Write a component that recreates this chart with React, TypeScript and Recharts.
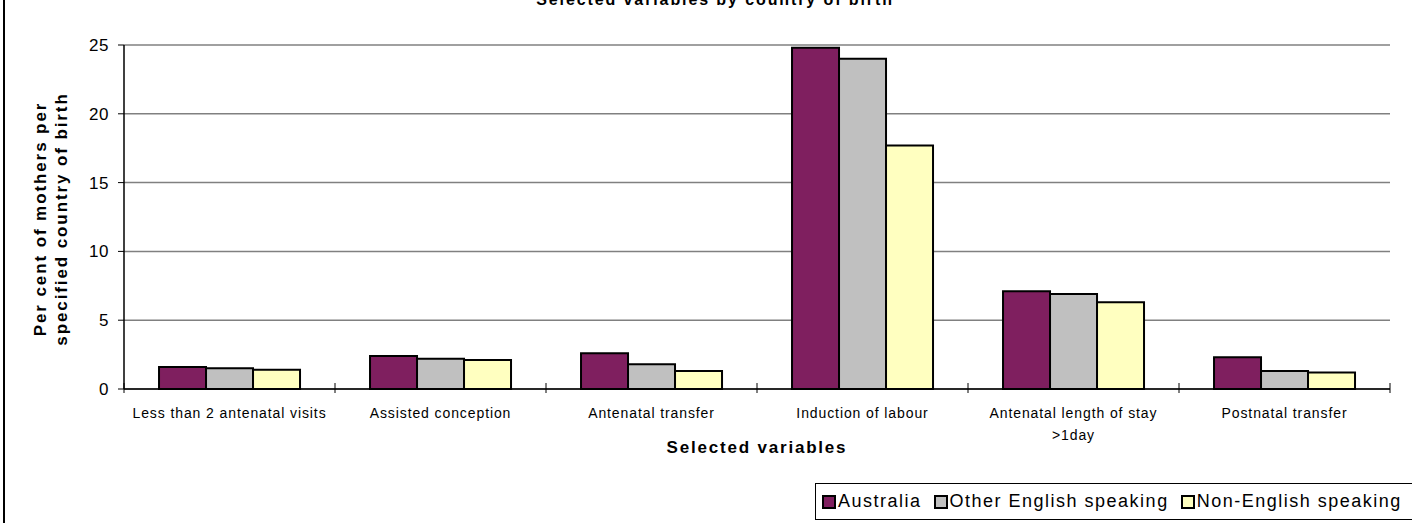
import { BarChart, Bar, XAxis, YAxis, CartesianGrid, Label } from "recharts";

const CATEGORIES = [
  "Less than 2 antenatal visits",
  "Assisted conception",
  "Antenatal transfer",
  "Induction of labour",
  "Antenatal length of stay >1day",
  "Postnatal transfer",
];
const AUSTRALIA = [1.6, 2.4, 2.6, 24.8, 7.1, 2.3];
const OTHER_ENGLISH = [1.5, 2.2, 1.8, 24.0, 6.9, 1.3];
const NON_ENGLISH = [1.4, 2.1, 1.3, 17.7, 6.3, 1.2];
const Y_TICKS = [0, 5, 10, 15, 20, 25];

const SERIES = [
  { key: "australia", name: "Australia", color: "#7F1F5F" },
  { key: "otherEnglish", name: "Other English speaking", color: "#C0C0C0" },
  { key: "nonEnglish", name: "Non-English speaking", color: "#FFFFC0" },
];

const FONT = "Arial, 'Liberation Sans', sans-serif";
const TICK_MARGIN = 20;

// only the ">1day" label wraps in the original
const wrapLabel = (s: string) => {
  const i = s.indexOf(" >");
  return i > 0 ? [s.slice(0, i), s.slice(i + 1)] : [s];
};

function CategoryTick(props: any) {
  const { x, y, payload, width, visibleTicksCount, index } = props;
  const band = width / visibleTicksCount;
  const axisY = y - TICK_MARGIN;
  const lines = wrapLabel(payload.value);
  return (
    <g>
      <line x1={x - band / 2} x2={x - band / 2} y1={axisY - 6} y2={axisY + 4} stroke="#000" />
      {index === visibleTicksCount - 1 && (
        <line x1={x + band / 2} x2={x + band / 2} y1={axisY - 6} y2={axisY + 4} stroke="#000" />
      )}
      {lines.map((l, i) => (
        <text
          key={i}
          x={x}
          y={y + 9 + i * 22}
          textAnchor="middle"
          fontSize={14}
          fill="#000"
          style={{ fontFamily: FONT, letterSpacing: 0.9 }}
        >
          {l}
        </text>
      ))}
    </g>
  );
}

function YTitle(props: any) {
  const { viewBox } = props;
  const cy = viewBox.y + viewBox.height / 2 + 2;
  const lines = ["Per cent of mothers per", "specified country of birth"];
  return (
    <g>
      {lines.map((l, i) => {
        const cx = 46 + i * 21;
        return (
          <text
            key={i}
            x={cx}
            y={cy}
            transform={`rotate(-90 ${cx} ${cy})`}
            textAnchor="middle"
            fontSize={17}
            fontWeight="bold"
            fill="#000"
            style={{ fontFamily: FONT, letterSpacing: 1.9 }}
          >
            {l}
          </text>
        );
      })}
    </g>
  );
}

export default function App() {
  const data = CATEGORIES.map((name, i) => ({
    name,
    australia: AUSTRALIA[i],
    otherEnglish: OTHER_ENGLISH[i],
    nonEnglish: NON_ENGLISH[i],
  }));

  return (
    <div style={{ position: "absolute", left: 0, top: 0, width: 1412, height: 523, overflow: "hidden", background: "#fff", fontFamily: FONT }}>
      <div style={{ position: "absolute", left: 3, top: 0, width: 2, height: 523, background: "#000" }} />
      <div
        style={{
          position: "absolute",
          left: 0,
          width: 1430,
          top: -10,
          textAlign: "center",
          fontSize: 16,
          fontWeight: "bold",
          letterSpacing: 1.9,
          lineHeight: "20px",
          color: "#000",
        }}
      >
        Selected variables by country of birth
      </div>
      <BarChart
        width={1412}
        height={523}
        data={data}
        margin={{ top: 45, right: 22, left: 0, bottom: 0 }}
        barCategoryGap="16.6%"
        barGap={0}
      >
        <CartesianGrid vertical={false} stroke="#808080" strokeWidth={1.5} yAxisId="left" />
        <XAxis
          dataKey="name"
          height={134}
          interval={0}
          tickSize={0}
          tickMargin={TICK_MARGIN}
          tick={<CategoryTick />}
          axisLine={{ stroke: "#000", strokeWidth: 1.5 }}
        >
          <Label
            value="Selected variables"
            position="insideTop"
            offset={52}
            style={{ fontFamily: FONT, fontSize: 17, fontWeight: "bold", fill: "#000", letterSpacing: 1.8 }}
          />
        </XAxis>
        <YAxis
          yAxisId="left"
          width={124}
          domain={[0, 25]}
          ticks={Y_TICKS}
          interval={0}
          tickSize={6}
          tickMargin={9}
          axisLine={{ stroke: "#000", strokeWidth: 1.5 }}
          tickLine={{ stroke: "#000" }}
          tick={{ fontSize: 17, fill: "#000", fontFamily: FONT, letterSpacing: 0.6 }}
        >
          <Label content={<YTitle />} />
        </YAxis>
        <YAxis
          yAxisId="right"
          orientation="right"
          width={0}
          domain={[0, 25]}
          tick={false}
          tickLine={false}
          axisLine={{ stroke: "#808080", strokeWidth: 2.5 }}
        />
        {SERIES.map((s) => (
          <Bar
            key={s.key}
            yAxisId="left"
            dataKey={s.key}
            name={s.name}
            fill={s.color}
            stroke="#000"
            strokeWidth={2}
            isAnimationActive={false}
          />
        ))}
      </BarChart>
      <div
        style={{
          position: "absolute",
          left: 815,
          top: 483,
          width: 620,
          height: 37,
          border: "1px solid #000",
          display: "flex",
          alignItems: "center",
          fontSize: 18,
          letterSpacing: 1.5,
          color: "#000",
          whiteSpace: "nowrap",
          paddingLeft: 6,
          boxSizing: "border-box",
        }}
      >
        {SERIES.map((s) => (
          <span key={s.key} style={{ display: "flex", alignItems: "center", marginRight: 12 }}>
            <span style={{ display: "inline-block", width: 10, height: 10, background: s.color, border: "2px solid #000", marginRight: 2 }} />
            {s.name}
          </span>
        ))}
      </div>
    </div>
  );
}
